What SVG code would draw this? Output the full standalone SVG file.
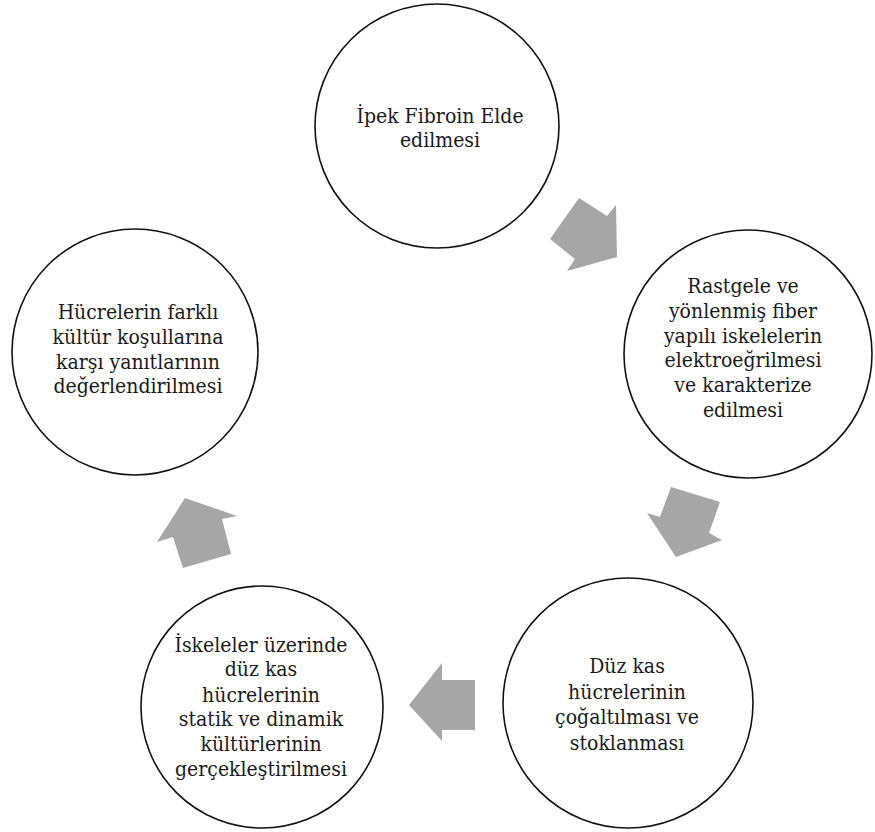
<svg xmlns="http://www.w3.org/2000/svg" width="875" height="832" viewBox="0 0 875 832">
<style>
.node circle{fill:#fff;stroke:#111;stroke-width:1.6}
.node text{font-family:'DejaVu Serif Condensed','DejaVu Serif',serif;font-size:21px;fill:#1a1a1a;text-anchor:middle}
.arrow{fill:#a6a6a6;stroke:none}
</style>
<rect width="875" height="832" fill="#fff"/>
<g id="connectors">
<polygon class="arrow" points="550,239 579,198 607,216 616,205 617,257 567,271 575,259"/>
<polygon class="arrow" points="671,487 720,502 709,533 722,540 676,557 647,513 660,517"/>
<polygon class="arrow" points="475,680 475,730 442,730 442,741 409,705 442,663 442,680"/>
<polygon class="arrow" points="185,498 237,516 222,519 231,554 183,568 173,537 157,542"/>
</g>
<g id="node1" class="node">
<circle cx="437" cy="126" r="122"/>
<text x="440" y="123">İpek Fibroin Elde</text>
<text x="440" y="147">edilmesi</text>
</g>
<g id="node2" class="node">
<circle cx="748" cy="354" r="124"/>
<text x="743" y="293">Rastgele ve</text>
<text x="743" y="318">yönlenmiş fiber</text>
<text x="743" y="343">yapılı iskelelerin</text>
<text x="743" y="367">elektroeğrilmesi</text>
<text x="743" y="392">ve karakterize</text>
<text x="743" y="417">edilmesi</text>
</g>
<g id="node3" class="node">
<circle cx="628" cy="703" r="125"/>
<text x="627" y="673">Düz kas</text>
<text x="627" y="699">hücrelerinin</text>
<text x="627" y="724">çoğaltılması ve</text>
<text x="627" y="750">stoklanması</text>
</g>
<g id="node4" class="node">
<circle cx="262" cy="707" r="121"/>
<text x="261" y="652">İskeleler üzerinde</text>
<text x="261" y="676">düz kas</text>
<text x="261" y="702">hücrelerinin</text>
<text x="261" y="726">statik ve dinamik</text>
<text x="261" y="751">kültürlerinin</text>
<text x="261" y="776">gerçekleştirilmesi</text>
</g>
<g id="node5" class="node">
<circle cx="135" cy="352" r="123"/>
<text x="138" y="319">Hücrelerin farklı</text>
<text x="138" y="344">kültür koşullarına</text>
<text x="138" y="369">karşı yanıtlarının</text>
<text x="138" y="393">değerlendirilmesi</text>
</g>
</svg>
